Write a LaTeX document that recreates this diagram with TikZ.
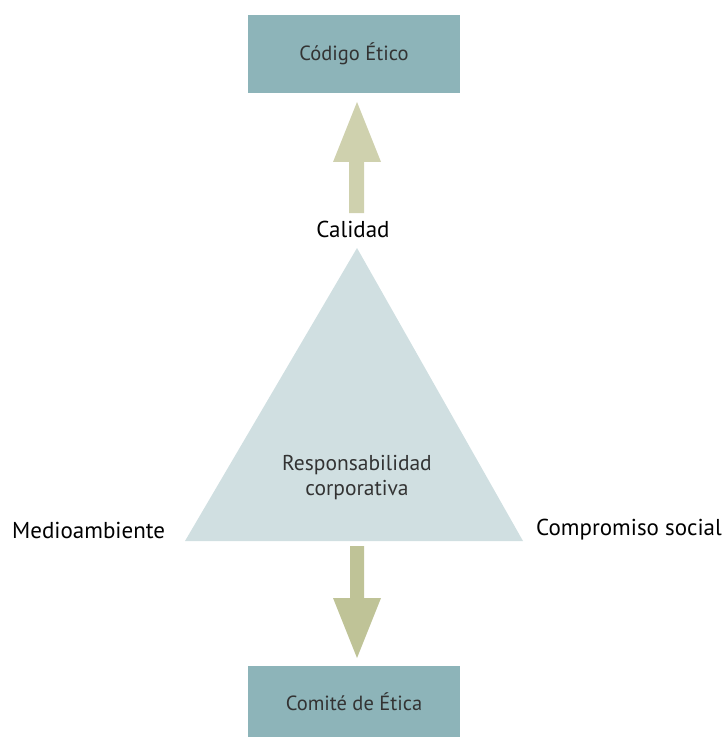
\documentclass[tikz,border=0pt]{standalone}
\usepackage{fontspec}
\setmainfont{PT Sans}
\definecolor{boxc}{HTML}{8DB4B9}
\definecolor{tric}{HTML}{D0DFE1}
\definecolor{upc}{HTML}{CFD1AE}
\definecolor{downc}{HTML}{BFC397}
\definecolor{txtc}{HTML}{333333}
\begin{document}
\begin{tikzpicture}[x=1pt,y=-1pt,
  boxnode/.style={fill=boxc,minimum width=212pt,minimum height=78pt,inner sep=0pt,text=txtc,font=\fontsize{20.5}{24}\selectfont},
  lbl/.style={inner sep=0pt,font=\fontsize{23}{26}\selectfont,text=black}]
\useasboundingbox (0,0) rectangle (723,738);
\node[boxnode] (code) at (354,54) {Código Ético};
\node[boxnode,minimum height=71pt] (comite) at (354,701.5) {Comité de Ética};
% triangle
\coordinate (apex) at (357,248);
\coordinate (bl) at (185,541);
\coordinate (br) at (523,541);
\fill[tric] (apex) -- (bl) -- (br) -- cycle;
\node[inner sep=0pt,align=center,text=txtc,font=\fontsize{21.5}{25}\selectfont] (resp) at (357,478) {Responsabilidad\\corporativa};
% up arrow
\fill[upc] (349,213) -- (349,162) -- (333,162) -- (357,102) -- (381,162) -- (364,162) -- (364,213) -- cycle;
% down arrow
\fill[downc] (350,546) -- (350,598) -- (333,598) -- (357,658) -- (381,598) -- (364,598) -- (364,546) -- cycle;
\node[lbl] (cal) at (353,229) {Calidad};
\node[lbl,anchor=west] (med) at (12,530) {Medioambiente};
\node[lbl,anchor=east] (comp) at (722,530) {Compromiso social};
\end{tikzpicture}
\end{document}
